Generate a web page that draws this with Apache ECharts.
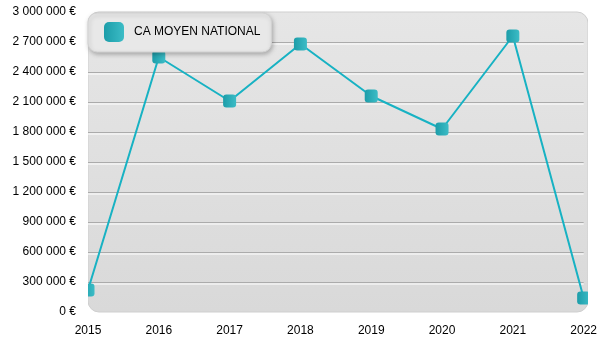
<!DOCTYPE html>
<html>
<head>
<meta charset="utf-8">
<style>
  html, body { margin: 0; padding: 0; background: #fff; }
  #chart { width: 600px; height: 350px; }
</style>
<script src="https://cdn.jsdelivr.net/npm/echarts@6/dist/echarts.min.js"></script>
</head>
<body>
<div id="chart"></div>
<script>
// Chiffre d'affaires moyen national par année
const years = ['2015', '2016', '2017', '2018', '2019', '2020', '2021', '2022'];
const caMoyen = [220000, 2550000, 2110000, 2680000, 2160000, 1830000, 2760000, 140000];
const seriesName = 'CA MOYEN NATIONAL';
const yMin = 0;
const yMax = 3000000;
const yStep = 300000;

const FONT = '"Liberation Sans", Arial, sans-serif';
const TEXT_COLOR = '#000000';
const GRID = { left: 88, top: 12, width: 500, height: 300 };

function euro(v) {
  return String(Math.round(v)).replace(/\B(?=(\d{3})+(?!\d))/g, ' ') + ' €';
}

const markerFill = new echarts.graphic.LinearGradient(0, 0, 1, 0, [
  { offset: 0, color: '#1c9da9' },
  { offset: 1, color: '#3cbcc6' }
]);

const chart = echarts.init(document.getElementById('chart'), null, { renderer: 'canvas' });

chart.setOption({
  animation: false,
  backgroundColor: '#ffffff',
  textStyle: { fontFamily: FONT },
  grid: { left: GRID.left, top: GRID.top, width: GRID.width, height: GRID.height, containLabel: false },
  graphic: [
    {
      // rounded plot background
      type: 'rect',
      z: -10,
      silent: true,
      shape: { x: GRID.left, y: GRID.top, width: GRID.width, height: GRID.height, r: 11 },
      style: {
        fill: new echarts.graphic.LinearGradient(0, 0, 0, 1, [
          { offset: 0, color: '#e6e6e6' },
          { offset: 1, color: '#d9d9d9' }
        ]),
        stroke: '#cfcfcf',
        lineWidth: 1
      }
    },
    {
      // trims markers sitting on the left edge
      type: 'rect',
      z: 50,
      silent: true,
      shape: { x: GRID.left - 9, y: 0, width: 9, height: GRID.top + GRID.height },
      style: { fill: '#ffffff' }
    },
    {
      // trims markers sitting on the right edge
      type: 'rect',
      z: 50,
      silent: true,
      shape: { x: GRID.left + GRID.width, y: 0, width: 12, height: GRID.top + GRID.height },
      style: { fill: '#ffffff' }
    }
  ],
  legend: {
    left: GRID.left,
    top: 13,
    z: 60,
    orient: 'horizontal',
    padding: [9, 11, 10, 16],
    itemWidth: 20,
    itemHeight: 20,
    icon: 'roundRect',
    backgroundColor: '#e8e8e8',
    borderColor: '#d2d2d2',
    borderWidth: 1,
    borderRadius: 9,
    shadowColor: 'rgba(0,0,0,0.25)',
    shadowBlur: 4,
    shadowOffsetX: 1,
    shadowOffsetY: 2,
    textStyle: { fontFamily: FONT, fontSize: 12, color: TEXT_COLOR, padding: [0, 0, 0, 5] },
    data: [seriesName]
  },
  xAxis: {
    type: 'category',
    data: years,
    boundaryGap: false,
    axisLine: { show: false },
    axisTick: { show: false },
    splitLine: { show: false },
    axisLabel: { fontFamily: FONT, fontSize: 12, color: TEXT_COLOR, margin: 13 }
  },
  yAxis: {
    type: 'value',
    min: yMin,
    max: yMax,
    interval: yStep,
    axisLine: { show: false },
    axisTick: { show: false },
    axisLabel: { fontFamily: FONT, fontSize: 12, color: TEXT_COLOR, margin: 12, formatter: euro },
    splitLine: {
      show: true,
      showMinLine: false,
      showMaxLine: false,
      lineStyle: {
        color: '#ababab',
        width: 1,
        shadowColor: '#ffffff',
        shadowBlur: 0,
        shadowOffsetY: 1.5
      }
    }
  },
  series: [
    {
      name: seriesName,
      type: 'line',
      data: caMoyen,
      clip: false,
      z: 5,
      symbol: 'roundRect',
      symbolSize: 13,
      showAllSymbol: true,
      lineStyle: { color: '#17b2c3', width: 2 },
      itemStyle: { color: markerFill, borderWidth: 0 },
      emphasis: { disabled: true }
    }
  ]
});
</script>
</body>
</html>
